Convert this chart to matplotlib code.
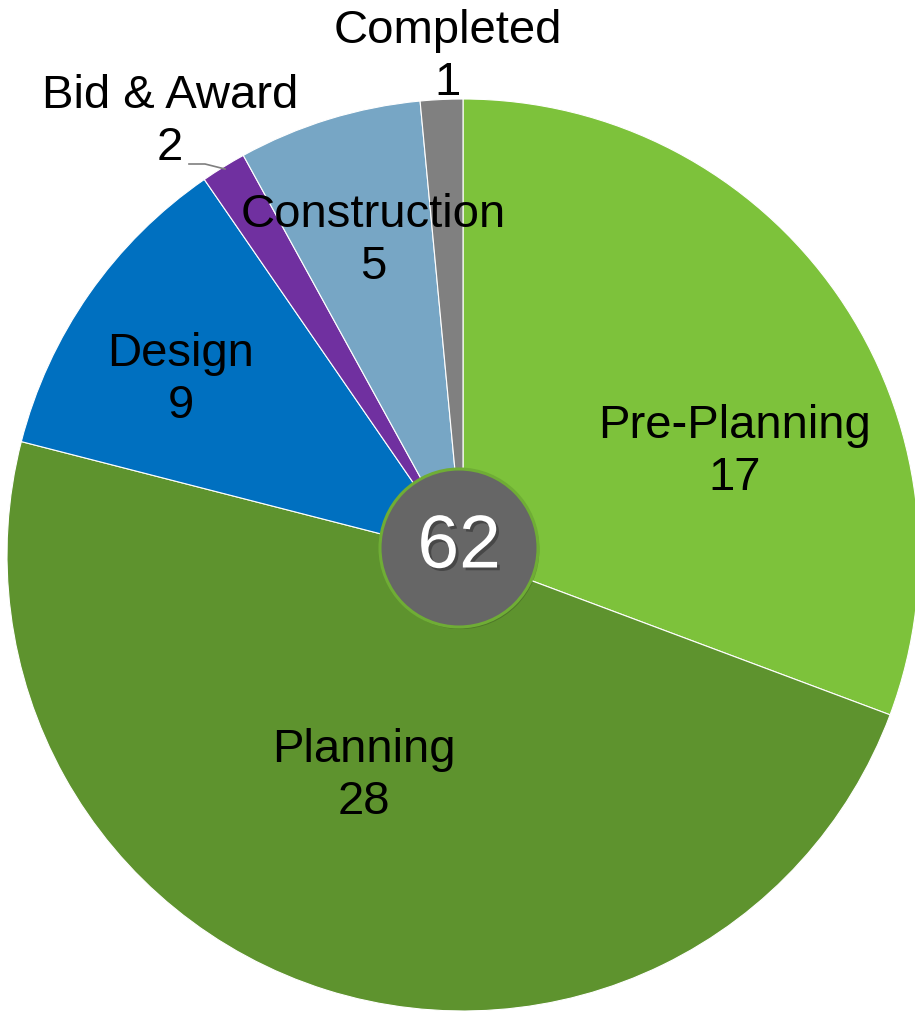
import matplotlib
matplotlib.use("Agg")
import matplotlib.pyplot as plt
from matplotlib.patches import Circle
import matplotlib.patheffects as pe

plt.rcParams['font.family'] = ['Liberation Sans', 'DejaVu Sans']

# Data
categories = ["Pre-Planning", "Planning", "Design", "Bid & Award", "Construction", "Completed"]
counts = [17, 28, 9, 2, 5, 1]                      # numbers shown in the labels
slice_shares = [30.7, 48.3, 11.4, 1.6, 6.5, 1.5]    # slice sizes as drawn in the picture (%)
total_label = "62"
colors = ["#7DC23B", "#5E932E", "#0070C0", "#7030A0", "#77A6C5", "#808080"]

# label centres (pixel coords)
label_pos = {
    "Pre-Planning": (735, 452),
    "Planning": (364, 776),
    "Design": (181, 380),
    "Bid & Award": (170, 122),
    "Construction": (373, 241),
    "Completed": (448, 57),
}

fig = plt.figure(figsize=(9.15, 10.11), dpi=100)
ax = fig.add_axes([0, 0, 1, 1])

ax.pie(slice_shares, colors=colors, startangle=-90, counterclock=True,
       center=(463, 555), radius=456,
       wedgeprops=dict(edgecolor="white", linewidth=0.8))
ax.set_xlim(0, 915)
ax.set_ylim(1011, 0)
ax.set_aspect('auto')
ax.axis('off')

for cat, n in zip(categories, counts):
    x, y = label_pos[cat]
    ax.text(x, y, f"{cat}\n{n}", ha="center", va="center", fontsize=34,
            color="black", linespacing=1.22, zorder=5)

# leader line for Bid & Award
ax.plot([189, 205, 225], [164, 164, 169], color="#7f7f7f", lw=1.2, zorder=4)

# centre circle
circ = Circle((459, 548), 79, facecolor="#666666", edgecolor="#6FAD35", lw=2.2, zorder=6,
              path_effects=[pe.SimplePatchShadow(offset=(1, -1.5), alpha=0.25), pe.Normal()])
ax.add_patch(circ)
ax.text(459, 548, total_label, ha="center", va="center", fontsize=54, color="white", zorder=7,
        path_effects=[pe.SimplePatchShadow(offset=(2, -2), shadow_rgbFace="#222222", alpha=0.45), pe.Normal()])

fig.savefig("out.png", dpi=100)
